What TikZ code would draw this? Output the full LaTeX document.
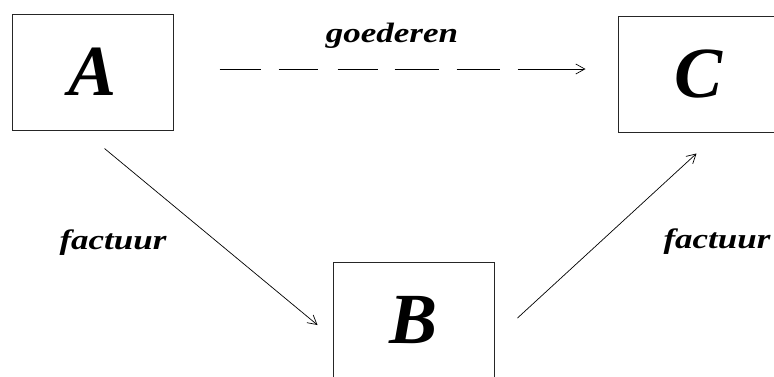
\documentclass[tikz,border=0pt]{standalone}
\usepackage{fontspec}
\setmainfont{Liberation Serif}
\usetikzlibrary{arrows.meta}

\tikzset{
  party/.style={draw=black!85, line width=1pt, minimum width=161pt, minimum height=116pt,
    inner sep=0pt, font=\fontsize{72}{74}\selectfont\bfseries\itshape},
  flow/.style={line width=0.7pt, -{Straight Barb[length=9pt,width=10pt]}},
  goods/.style={flow, dash pattern=on 41pt off 18pt on 39pt off 20pt on 40pt off 17pt
    on 44pt off 18pt on 43pt off 18pt on 120pt off 10pt},
  tag/.style={inner sep=0pt, font=\fontsize{28}{30}\selectfont\bfseries\itshape}
}

\begin{document}
\begin{tikzpicture}[x=1pt,y=-1pt]
\useasboundingbox (0,0) rectangle (774,376);
\clip (0,0) rectangle (774,376);
\node[party] (boxA) at (92.5,72) {A};
\node[party] (boxC) at (698.5,74) {C};
\node[party] (boxB) at (413.5,320) {B};
% goods flow A -> C
\draw[goods] ([shift={(46,-3)}]boxA.east) -- ([shift={(-32,-5)}]boxC.west);
\node[tag] (lblGoods) at (392,36) {\scalebox{1.25}[1]{goederen}};
% invoices
\draw[flow] ([shift={(12,18)}]boxA.south) -- ([shift={(-15,5)}]boxB.west);
\draw[flow] ([shift={(23,-2)}]boxB.east) -- ([shift={(-2,21)}]boxC.south);
\node[tag] (lblInvA) at (113,243) {\scalebox{1.25}[1]{factuur}};
\node[tag] (lblInvC) at (717,242) {\scalebox{1.25}[1]{factuur}};
\end{tikzpicture}
\end{document}
